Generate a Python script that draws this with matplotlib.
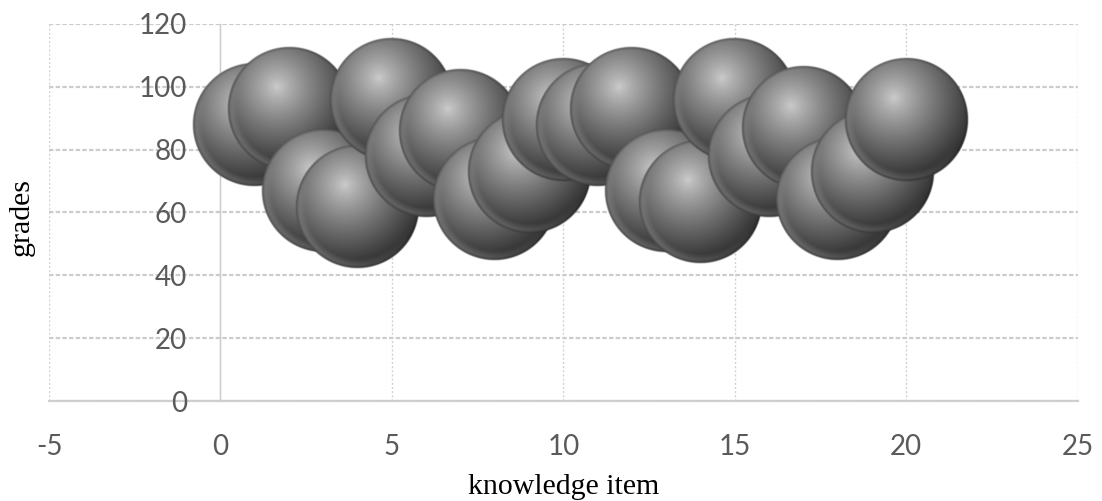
import matplotlib
matplotlib.use('Agg')
import matplotlib.pyplot as plt
import numpy as np

# grades per knowledge item (bubble chart, equal bubble sizes)
items = [1, 2, 3, 4, 5, 6, 7, 8, 9, 10, 11, 12, 13, 14, 15, 16, 17, 18, 19, 20]
grades = [88, 93, 67, 62, 96, 78, 86, 64.5, 73, 89.5,
          88, 93, 67, 63.5, 96, 78, 87, 64.5, 73, 89.5]
sizes = [1] * 20

x_ticks = [-5, 0, 5, 10, 15, 20, 25]
x_labels = ['-5', '0', '5', '10', '15', '20', '25']
y_ticks = [0, 20, 40, 60, 80, 100, 120]

BUBBLE_R_PT = 45.0  # radius of a size-1 bubble in points


def sphere_rgba(n=241):
    t = np.linspace(-1, 1, n)
    u, v = np.meshgrid(t, -t)
    r = np.sqrt(u ** 2 + v ** 2)
    hx, hy = -0.2, 0.35
    d = np.sqrt((u - hx) ** 2 + (v - hy) ** 2)
    val = 0.80 - 0.62 * np.clip(d / 1.35, 0, 1) ** 0.85
    # lighter rim along the lower edge
    rr = np.maximum(r, 1e-6)
    dot = np.clip((-0.45 * u - 0.9 * v) / rr, 0, 1)
    band = np.clip((r - 0.84) / 0.1, 0, 1)
    val = val + 0.14 * band * dot
    # thin dark edge
    val = val * (1 - 0.35 * np.clip((r - 0.94) / 0.06, 0, 1))
    val = np.clip(val, 0, 1)
    alpha = np.clip((1 - r) * 45, 0, 1)
    img = np.zeros((n, n, 4))
    img[..., 0] = val
    img[..., 1] = val
    img[..., 2] = val
    img[..., 3] = alpha
    return img


fig = plt.figure(figsize=(11.02, 5.01), dpi=100)
ax = fig.add_axes([0.0445, 0.1996, 0.9335, 0.7525])
ax.set_xlim(-5, 25)
ax.set_ylim(0, 120)
ax.set_xticks(x_ticks)
ax.set_xticklabels(x_labels)
ax.set_yticks(y_ticks)

# grid and frame
ax.grid(axis='y', color='#cccccc', linestyle=(0, (2, 1)), linewidth=1.6, zorder=0)
ax.grid(axis='x', color='#d2d2d2', linestyle=(0, (1.5, 1.5)), linewidth=1.0, zorder=0)
for side in ['top', 'right']:
    ax.spines[side].set_visible(False)
ax.spines['left'].set_position(('data', 0))
ax.spines['left'].set_color('#c8c8c8')
ax.spines['left'].set_linewidth(1.0)
ax.spines['bottom'].set_color('#d0d0d0')
ax.spines['bottom'].set_linewidth(1.6)
ax.spines['left'].set_zorder(0.5)
ax.spines['bottom'].set_zorder(0.5)

ax.tick_params(length=0, pad=24, labelsize=20, labelcolor='#5a5a5a')
for lab in ax.get_xticklabels() + ax.get_yticklabels():
    lab.set_family(['Lato', 'DejaVu Sans'])

# bubbles drawn as shaded spheres
sphere = sphere_rgba()
p0 = ax.transData.transform((0, 0))
sx = ax.transData.transform((1, 0))[0] - p0[0]
sy = ax.transData.transform((0, 1))[1] - p0[1]
r_px = BUBBLE_R_PT * fig.dpi / 72.0
for i, (x, y, s) in enumerate(zip(items, grades, sizes)):
    rx = r_px * np.sqrt(s) / sx
    ry = r_px * np.sqrt(s) / sy
    ax.imshow(sphere, extent=(x - rx, x + rx, y - ry, y + ry), aspect='auto',
              interpolation='bilinear', zorder=2 + i * 0.01)
ax.set_xlim(-5, 25)
ax.set_ylim(0, 120)

fig.text(0.5112, 0.014, 'knowledge item', family='Liberation Serif', fontsize=21.5,
         ha='center', va='baseline')
fig.text(0.020, 0.567, 'grades', family='Liberation Serif', fontsize=21.5,
         ha='center', va='center', rotation=90)

fig.savefig('out.png', dpi=100)
